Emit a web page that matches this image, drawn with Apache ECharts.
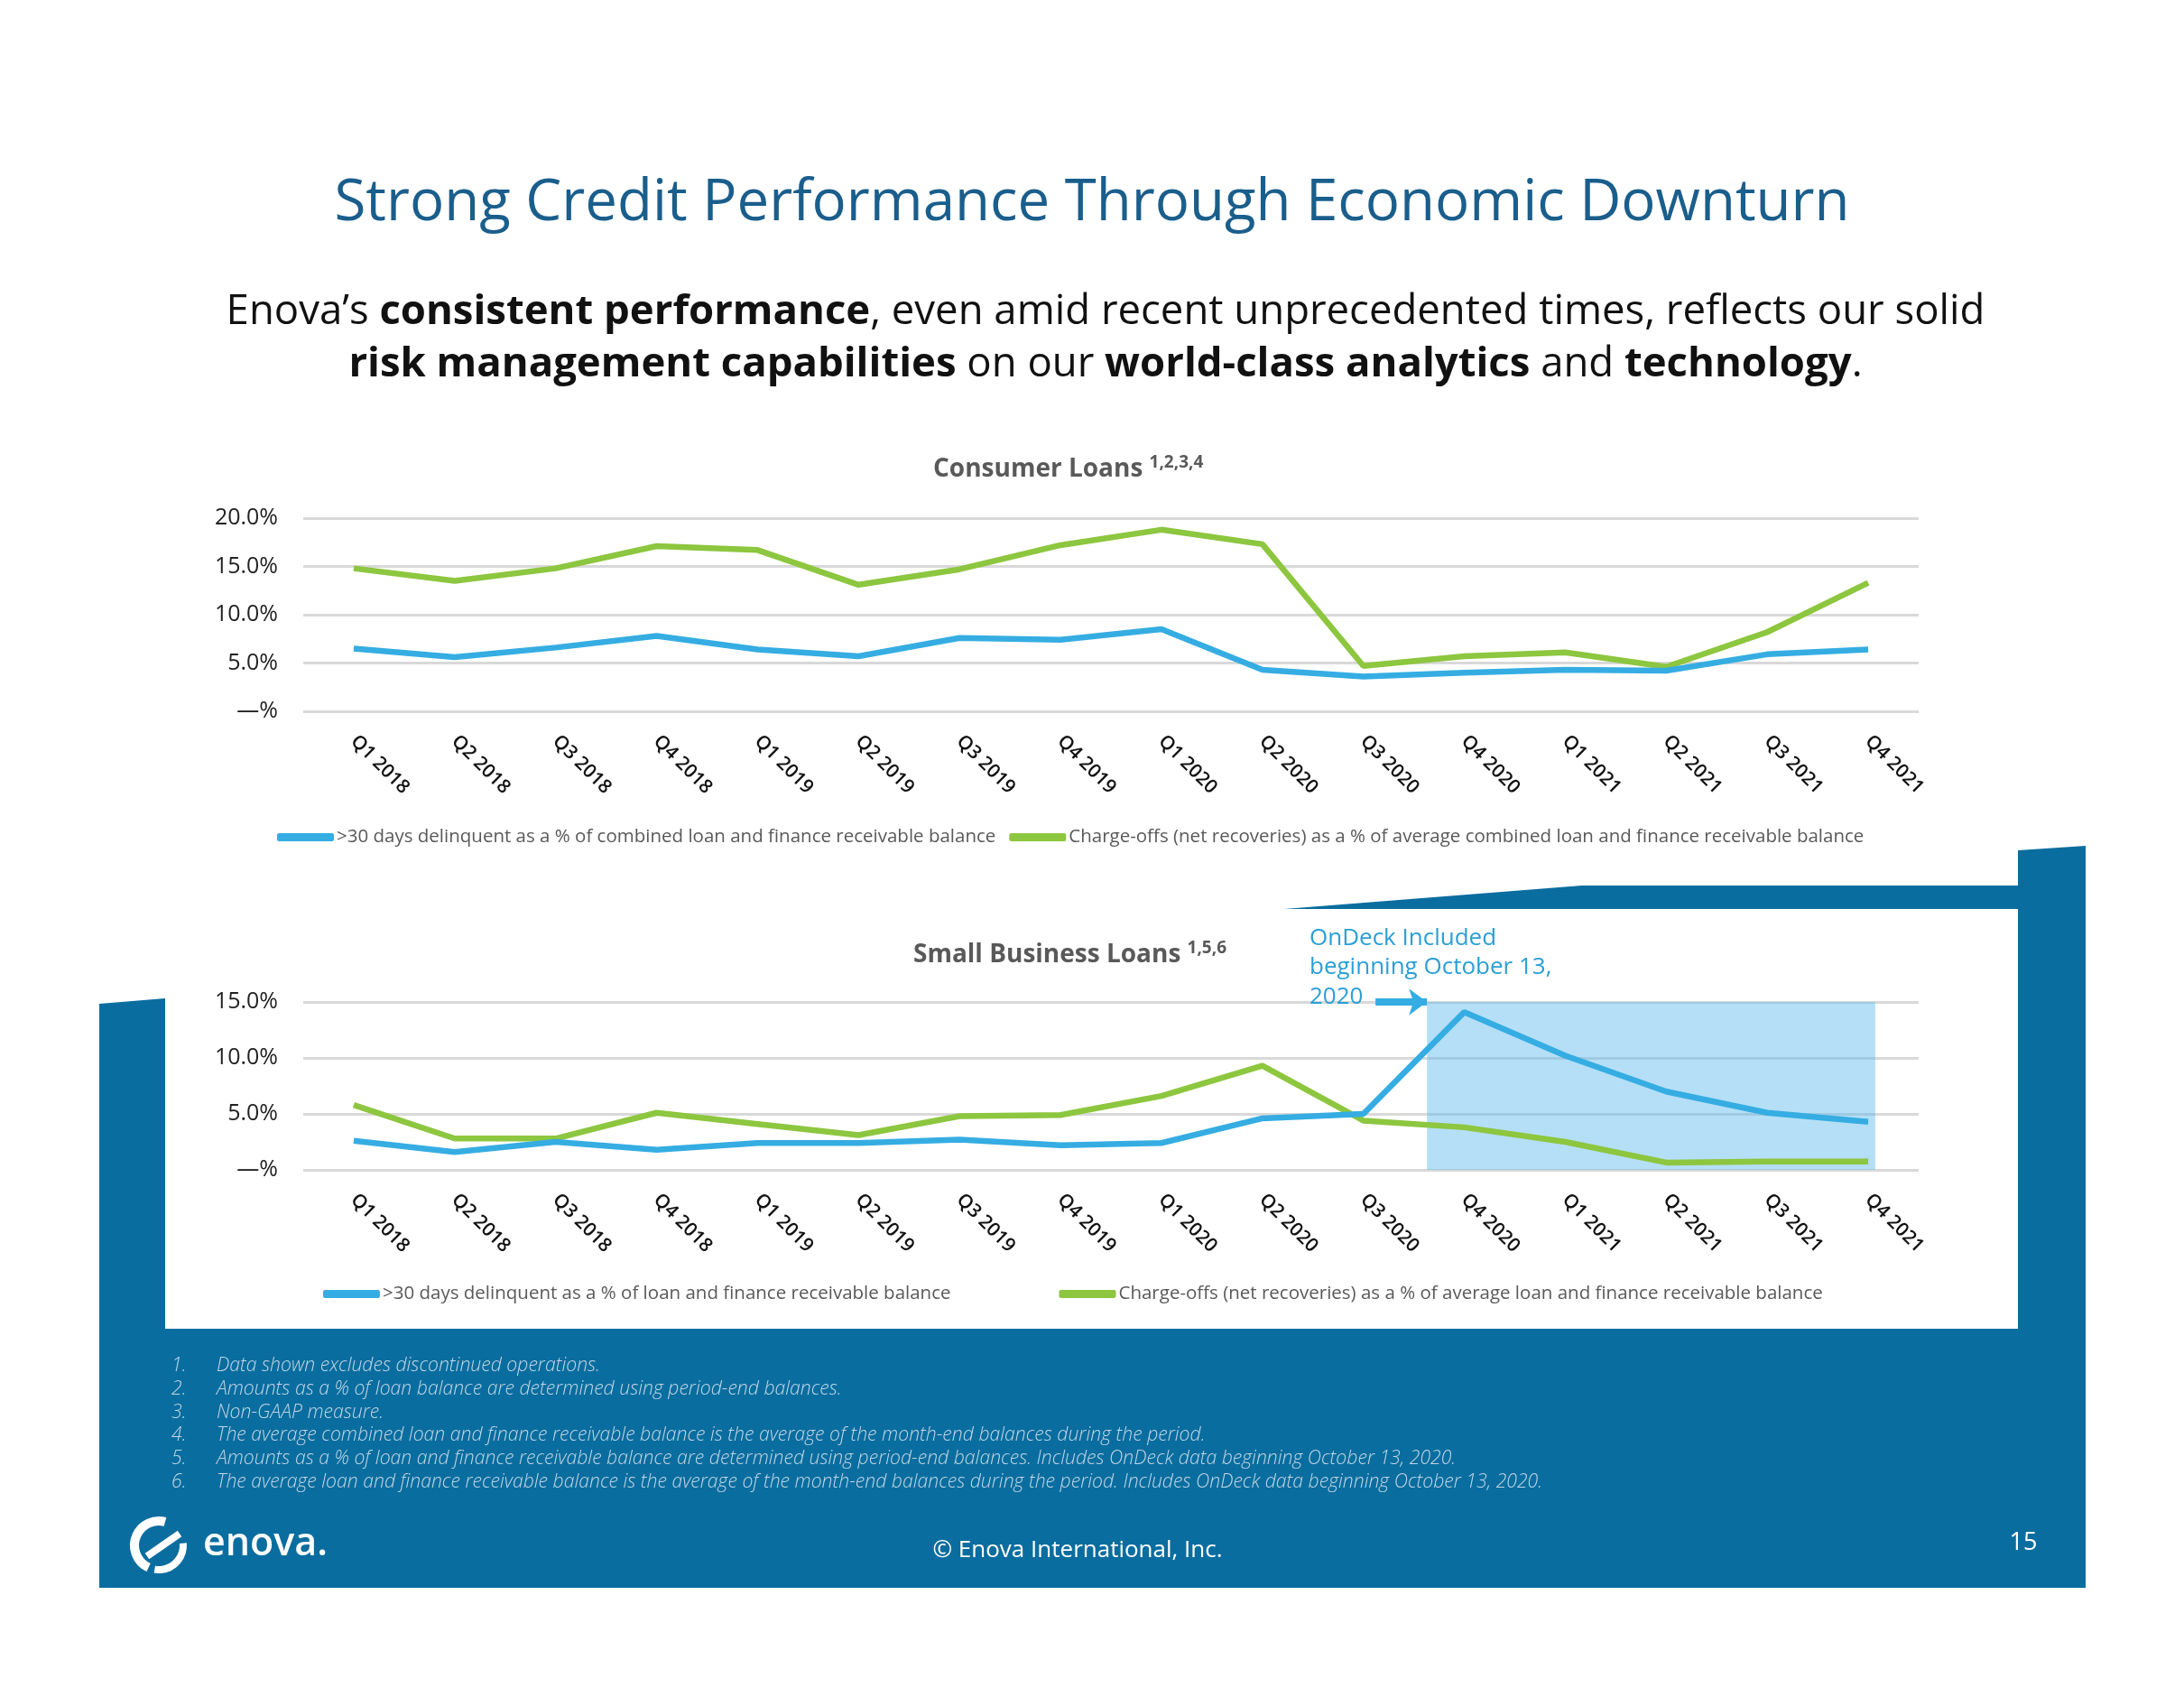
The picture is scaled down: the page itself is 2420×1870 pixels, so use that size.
<!DOCTYPE html>
<html>
<head>
<meta charset="utf-8">
<script src="https://cdn.jsdelivr.net/npm/echarts@6/dist/echarts.min.js"></script>
<style>
  html, body { margin: 0; padding: 0; background: #fff; }
  #chart { width: 2420px; height: 1870px; }
</style>
</head>
<body>
<div id="chart"></div>
<script>
// quarters shared by both charts
const quarters = ['Q1 2018', 'Q2 2018', 'Q3 2018', 'Q4 2018', 'Q1 2019', 'Q2 2019', 'Q3 2019', 'Q4 2019',
                  'Q1 2020', 'Q2 2020', 'Q3 2020', 'Q4 2020', 'Q1 2021', 'Q2 2021', 'Q3 2021', 'Q4 2021'];

// Consumer loans (%)
const consumerDelinquent = [6.5, 5.6, 6.6, 7.8, 6.4, 5.7, 7.6, 7.4, 8.5, 4.3, 3.6, 4.0, 4.3, 4.2, 5.9, 6.4];
const consumerChargeOffs = [14.8, 13.5, 14.8, 17.1, 16.7, 13.1, 14.7, 17.2, 18.8, 17.3, 4.7, 5.7, 6.1, 4.6, 8.2, 13.3];

// Small business loans (%)
const smbDelinquent = [2.6, 1.6, 2.5, 1.8, 2.4, 2.4, 2.7, 2.2, 2.4, 4.6, 5.0, 14.1, 10.2, 7.0, 5.1, 4.3];
const smbChargeOffs = [5.8, 2.8, 2.8, 5.1, 4.1, 3.1, 4.8, 4.9, 6.6, 9.3, 4.4, 3.8, 2.5, 0.65, 0.75, 0.75];

// OnDeck shaded period, in quarter-index units
const onDeckRange = [10.63, 15.07];

const consumerTicks = [0, 5, 10, 15, 20];
const smbTicks = [0, 5, 10, 15];

const names = {
    cDel: '>30 days delinquent as a % of combined loan and finance receivable balance',
    cCo: 'Charge-offs (net recoveries) as a % of average combined loan and finance receivable balance',
    sDel: '>30 days delinquent as a % of loan and finance receivable balance',
    sCo: 'Charge-offs (net recoveries) as a % of average loan and finance receivable balance'
};

const footnotes = [
    'Data shown excludes discontinued operations.',
    'Amounts as a % of loan balance are determined using period-end balances.',
    'Non-GAAP measure.',
    'The average combined loan and finance receivable balance is the average of the month-end balances during the period.',
    'Amounts as a % of loan and finance receivable balance are determined using period-end balances. Includes OnDeck data beginning October 13, 2020.',
    'The average loan and finance receivable balance is the average of the month-end balances during the period. Includes OnDeck data beginning October 13, 2020.'
];

const FONT = '"Open Sans", "Noto Sans", sans-serif';
const BLUE = '#35ade2';
const GREEN = '#8dc63f';
const NAVY = '#0a6d9f';
const DEG = Math.PI / 180;

let chart = echarts.init(document.getElementById('chart'));

function pct(v) {
    return v === 0 ? '\u2014%' : v.toFixed(1) + '%';
}

const xAxisBase = {
    type: 'category',
    data: quarters,
    boundaryGap: true,
    axisLine: { show: false },
    axisTick: { show: false },
    axisLabel: {
        rotate: -45,
        margin: 30,
        fontFamily: FONT,
        fontSize: 21,
        fontWeight: 600,
        color: '#111'
    }
};

function yAxisBase(max) {
    return {
        type: 'value',
        min: 0,
        max: max,
        interval: 5,
        axisLine: { show: false },
        axisTick: { show: false },
        splitLine: { lineStyle: { color: '#d9d9d9', width: 3 } },
        axisLabel: {
            margin: 28,
            fontFamily: FONT,
            fontSize: 25,
            color: '#222',
            formatter: pct
        }
    };
}

function lineSeries(name, data, color, idx, z) {
    return {
        name: name,
        type: 'line',
        data: data,
        xAxisIndex: idx,
        yAxisIndex: idx,
        symbol: 'none',
        z: z,
        lineStyle: { color: color, width: 6.5 },
        itemStyle: { color: color }
    };
}

// page decoration: dark blue frame
const framePoints = [
    [110, 1112], [183, 1106], [183, 1472], [2236, 1472], [2236, 1007], [1423, 1007],
    [1753, 981], [2236, 981], [2236, 942], [2311, 937], [2311, 1759], [110, 1759]
];

const subRich = {
    r: { fontFamily: FONT, fontSize: 45.5, fill: '#111' },
    b: { fontFamily: FONT, fontSize: 45.5, fontWeight: 'bold', fill: '#111' }
};

const graphics = [
    { type: 'polygon', z: -10, shape: { points: framePoints }, style: { fill: NAVY } },
    {
        type: 'text', x: 1210, y: 226, z: 10,
        style: { text: 'Strong Credit Performance Through Economic Downturn', fontFamily: FONT,
                 fontSize: 63.6, fill: '#1a5e8c', align: 'center', verticalAlign: 'middle' }
    },
    {
        type: 'text', x: 1225, y: 346, z: 10,
        style: {
            text: '{r|Enova\u2019s }{b|consistent performance}{r|, even amid recent unprecedented times, reflects our solid}',
            align: 'center', verticalAlign: 'middle', rich: subRich
        }
    },
    {
        type: 'text', x: 1225, y: 404, z: 10,
        style: {
            text: '{b|risk management capabilities}{r| on our }{b|world-class analytics}{r| and }{b|technology}{r|.}',
            align: 'center', verticalAlign: 'middle', rich: subRich
        }
    },
    {
        type: 'text', x: 1451, y: 1023, z: 10,
        style: { text: 'OnDeck Included\nbeginning October 13,\n2020', fontFamily: FONT, fontSize: 26,
                 lineHeight: 32.5, fill: '#2a9fd6' }
    },
    {
        type: 'text', x: 1194, y: 1718, z: 10,
        style: { text: '\u00a9 Enova International, Inc.', fontFamily: FONT, fontSize: 26,
                 fill: '#fff', align: 'center', verticalAlign: 'middle' }
    },
    {
        type: 'text', x: 2242, y: 1709, z: 10,
        style: { text: '15', fontFamily: FONT, fontSize: 27, fill: '#fff', align: 'center', verticalAlign: 'middle' }
    },
    // enova logo
    {
        type: 'arc', z: 10,
        shape: { cx: 176, cy: 1712, r: 27, startAngle: 115 * DEG, endAngle: 285 * DEG },
        style: { stroke: '#fff', lineWidth: 10, fill: null }
    },
    {
        type: 'arc', z: 10,
        shape: { cx: 176, cy: 1712, r: 27, startAngle: -5 * DEG, endAngle: 100 * DEG },
        style: { stroke: '#fff', lineWidth: 8, fill: null }
    },
    {
        type: 'line', z: 10,
        shape: { x1: 163, y1: 1724, x2: 199, y2: 1699 },
        style: { stroke: '#fff', lineWidth: 8 }
    },
    {
        type: 'text', x: 225, y: 1711, z: 10,
        style: { text: 'enova.', fontFamily: FONT, fontSize: 43, fontWeight: 600, fill: '#fff', verticalAlign: 'middle' }
    }
];

footnotes.forEach(function (t, i) {
    graphics.push({
        type: 'text', x: 190, y: 1513 + i * 25.8, z: 10,
        style: { text: (i + 1) + '.', fontFamily: FONT, fontSize: 21.2, fontStyle: 'italic', fontWeight: 300,
                 fill: '#c0d6e5', verticalAlign: 'middle' }
    });
    graphics.push({
        type: 'text', x: 240, y: 1513 + i * 25.8, z: 10,
        style: { text: t, fontFamily: FONT, fontSize: 21.2, fontStyle: 'italic', fontWeight: 300,
                 fill: '#c0d6e5', verticalAlign: 'middle' }
    });
});

const titleStyle = {
    fontFamily: FONT,
    fontSize: 28,
    fontWeight: 'bold',
    color: '#595959',
    rich: {
        sup: { fontFamily: FONT, fontSize: 19, fontWeight: 'bold', color: '#595959', padding: [0, 0, 16, 0] }
    }
};

const legendText = { fontFamily: FONT, fontSize: 20.5, color: '#595959', padding: [0, 0, 0, -2] };

chart.setOption({
    backgroundColor: '#fff',
    animation: false,
    title: [
        { text: 'Consumer Loans {sup|1,2,3,4}', left: 1034, top: 503, padding: 0, textStyle: titleStyle },
        { text: 'Small Business Loans {sup|1,5,6}', left: 1012, top: 1041, padding: 0, textStyle: titleStyle }
    ],
    legend: [
        {
            data: [names.cDel, names.cCo],
            left: 307, top: 917, itemGap: 15, padding: 0,
            icon: 'roundRect', itemWidth: 63, itemHeight: 9,
            textStyle: legendText
        },
        {
            data: [names.sDel, names.sCo],
            left: 358, top: 1423, itemGap: 120, padding: 0,
            icon: 'roundRect', itemWidth: 63, itemHeight: 9,
            textStyle: legendText
        }
    ],
    grid: [
        { left: 336, right: 294, top: 574, height: 214 },
        { left: 336, right: 294, top: 1110, height: 186 }
    ],
    xAxis: [
        Object.assign({ gridIndex: 0 }, xAxisBase),
        Object.assign({ gridIndex: 1 }, xAxisBase),
        { type: 'value', gridIndex: 1, min: -0.5, max: 15.5, show: false }
    ],
    yAxis: [
        Object.assign({ gridIndex: 0 }, yAxisBase(consumerTicks[consumerTicks.length - 1])),
        Object.assign({ gridIndex: 1 }, yAxisBase(smbTicks[smbTicks.length - 1]))
    ],
    graphic: { elements: graphics },
    series: [
        lineSeries(names.cDel, consumerDelinquent, BLUE, 0, 3),
        lineSeries(names.cCo, consumerChargeOffs, GREEN, 0, 2),
        lineSeries(names.sDel, smbDelinquent, BLUE, 1, 5),
        lineSeries(names.sCo, smbChargeOffs, GREEN, 1, 2),
        {
            // OnDeck shading and arrow
            type: 'line',
            xAxisIndex: 2,
            yAxisIndex: 1,
            z: 4,
            data: [[onDeckRange[0], 0]],
            symbol: 'none',
            lineStyle: { opacity: 0 },
            silent: true,
            markArea: {
                silent: true,
                itemStyle: { color: 'rgba(91,185,235,0.45)' },
                data: [[{ xAxis: onDeckRange[0], yAxis: 15 }, { xAxis: onDeckRange[1], yAxis: 0 }]]
            },
            markLine: {
                silent: true,
                symbol: ['none', 'arrow'],
                symbolSize: [22, 20],
                label: { show: false },
                lineStyle: { color: BLUE, width: 8, type: 'solid', opacity: 1 },
                data: [[{ coord: [10.12, 15] }, { coord: [onDeckRange[0], 15] }]]
            }
        }
    ]
});
</script>
</body>
</html>
